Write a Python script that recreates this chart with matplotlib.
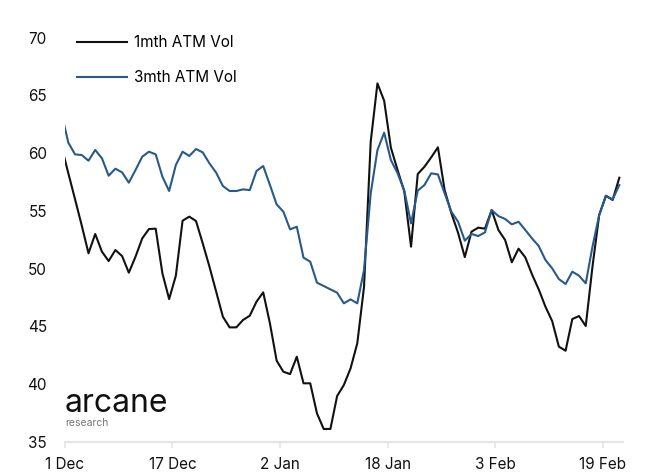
import numpy as np
import pandas as pd
import matplotlib.pyplot as plt

# daily fixings, stamped mid-day
dates = pd.date_range("2022-11-30 12:00", periods=84, freq="D")

vol_1m = [
    60.55, 58.25, 56.0, 53.72, 51.33, 53.0, 51.47, 50.66, 51.61, 51.09,
    49.65, 51.04, 52.62, 53.43, 53.46, 49.59, 47.37, 49.39, 54.15, 54.5,
    54.12, 52.19, 50.17, 48.01, 45.84, 44.92, 44.92, 45.56, 45.93, 47.14,
    47.95, 45.27, 42.04, 41.08, 40.88, 42.38, 40.08, 40.08, 37.48, 36.13,
    36.13, 38.98, 39.93, 41.37, 43.54, 48.4, 60.99, 66.03, 64.53, 60.47,
    58.53, 56.66, 51.9, 58.19, 58.82, 59.63, 60.5, 56.8, 54.8, 53.1,
    51.0, 53.2, 53.55, 53.46, 55.07, 53.35, 52.48, 50.55, 51.73, 50.98,
    49.51, 48.21, 46.71, 45.47, 43.25, 42.9, 45.64, 45.9, 45.04, 50.17,
    54.64, 56.31, 55.94, 57.87,
]

vol_3m = [
    63.4, 60.9, 59.89, 59.83, 59.34, 60.27, 59.55, 58.04, 58.65, 58.33,
    57.44, 58.54, 59.69, 60.12, 59.89, 57.96, 56.72, 58.97, 60.12, 59.75,
    60.35, 60.06, 59.11, 58.3, 57.15, 56.72, 56.72, 56.86, 56.8, 58.45,
    58.88, 57.24, 55.56, 54.93, 53.4, 53.63, 50.95, 50.6, 48.79, 48.5,
    48.21, 47.92, 47.0, 47.34, 47.0, 49.88, 56.52, 60.26, 61.76, 59.4,
    58.25, 56.75, 53.92, 56.75, 57.24, 58.25, 58.15, 56.52, 54.93, 54.06,
    52.42, 53.0, 52.82, 53.14, 55.07, 54.55, 54.3, 53.83, 54.06, 53.35,
    52.62, 51.96, 50.75, 50.03, 49.1, 48.67, 49.74, 49.39, 48.73, 51.9,
    54.64, 56.28, 56.0, 57.24,
]

tick_dates = pd.to_datetime(["2022-12-01", "2022-12-17", "2023-01-02",
                             "2023-01-18", "2023-02-03", "2023-02-19"])
tick_labels = ["1 Dec", "17 Dec", "2 Jan", "18 Jan", "3 Feb", "19 Feb"]
y_ticks = [35, 40, 45, 50, 55, 60, 65, 70]

plt.rcParams["font.family"] = ["Inter", "DejaVu Sans"]

fig = plt.figure(figsize=(6.57, 4.73), dpi=100)
ax = fig.add_axes([0.0989, 0.0655, 0.8489, 0.8552])

ax.plot(dates, vol_1m, color="#111111", lw=1.5, label="1mth ATM Vol")
ax.plot(dates, vol_3m, color="#275a8a", lw=1.5, label="3mth ATM Vol")

ax.set_xlim(pd.Timestamp("2022-12-01"), pd.Timestamp("2023-02-22"))
ax.set_ylim(35, 70)
ax.set_yticks(y_ticks)
ax.set_xticks(tick_dates)
ax.set_xticklabels(tick_labels)

for s in ["top", "right", "left"]:
    ax.spines[s].set_visible(False)
ax.spines["bottom"].set_color("#e1e4e8")
ax.spines["bottom"].set_linewidth(1.5)
ax.tick_params(axis="x", colors="#e1e4e8", length=4, width=1.2, pad=7,
               labelcolor="#111111", labelsize=11)
ax.tick_params(axis="y", length=0, pad=13, labelcolor="#111111", labelsize=11)

leg = ax.legend(loc="upper left", bbox_to_anchor=(-0.003, 1.04), frameon=False,
                handlelength=3.3, handletextpad=0.4, labelspacing=1.3,
                fontsize=11)

# logo block
fig.text(0.099, 0.130, "arcane", fontsize=23, color="#111111")
fig.text(0.100, 0.100, "research", fontsize=7.5, color="#777777")

fig.savefig("out.png", dpi=100)
